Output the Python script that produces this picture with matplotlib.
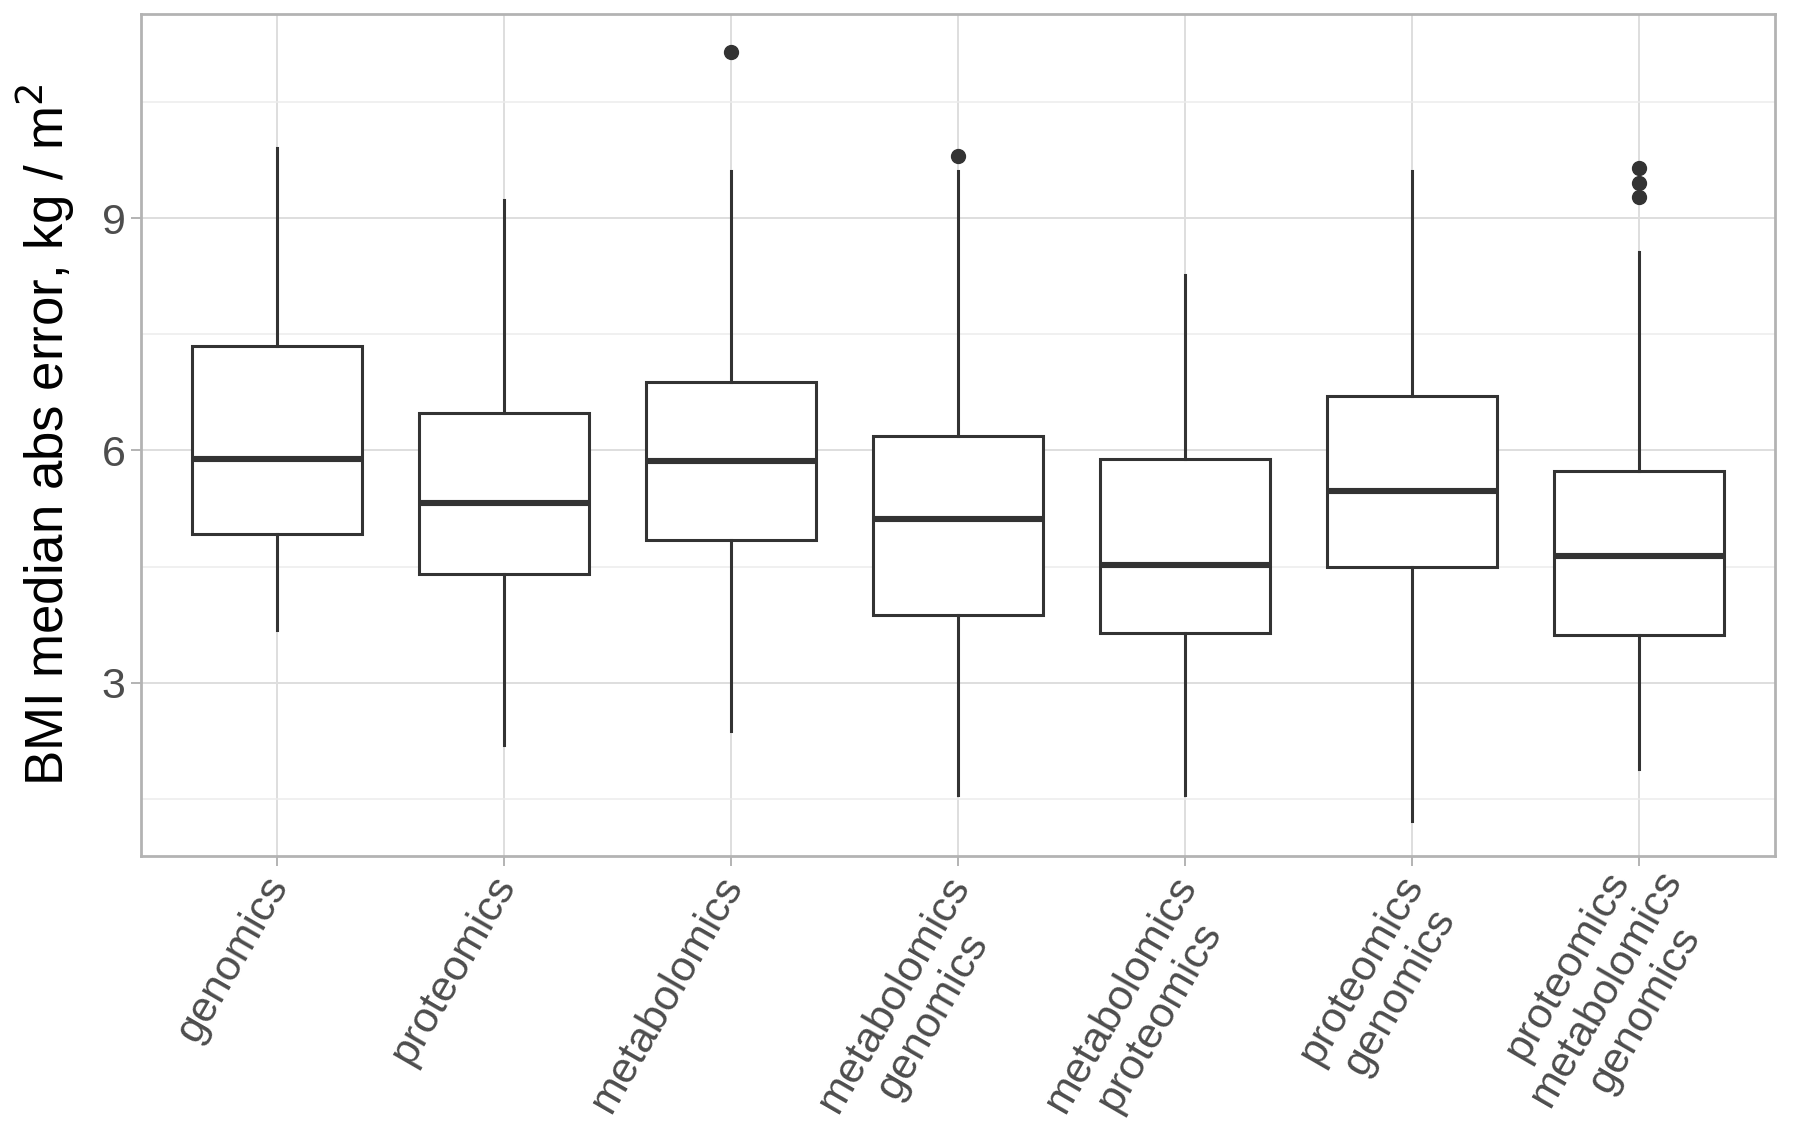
import numpy as np
import matplotlib
matplotlib.use("Agg")
import matplotlib.pyplot as plt
import matplotlib.transforms as mtransforms
from matplotlib.ticker import MultipleLocator

plt.rcParams['font.family'] = ['Liberation Sans', 'DejaVu Sans']

# groups of omics used for the BMI model
groups = ["genomics", "proteomics", "metabolomics",
          "metabolomics\ngenomics", "metabolomics\nproteomics",
          "proteomics\ngenomics", "proteomics\nmetabolomics\ngenomics"]

# box statistics (kg / m^2)
whislo = [3.68, 2.19, 2.37, 1.55, 1.55, 1.21, 1.89]
q1     = [4.92, 4.40, 4.84, 3.88, 3.64, 4.49, 3.61]
med    = [5.89, 5.32, 5.87, 5.11, 4.52, 5.48, 4.64]
q3     = [7.35, 6.48, 6.89, 6.19, 5.89, 6.71, 5.74]
whishi = [9.91, 9.24, 9.61, 9.61, 8.27, 9.61, 8.57]
fliers = [[], [], [11.15], [9.81], [], [], [9.65, 9.46, 9.27]]

stats = []
for i in range(len(groups)):
    stats.append(dict(whislo=whislo[i], q1=q1[i], med=med[i], q3=q3[i],
                      whishi=whishi[i], fliers=fliers[i], label=groups[i]))

fig = plt.figure(figsize=(18, 11.39), dpi=100)
ax = fig.add_axes([0.0783, 0.2485, 0.9078, 0.7392])

dark = "#333333"
ax.bxp(stats, positions=np.arange(1, 8), widths=0.75, showcaps=False,
       patch_artist=True,
       boxprops=dict(facecolor="white", edgecolor=dark, linewidth=2.2),
       whiskerprops=dict(color=dark, linewidth=2.2),
       medianprops=dict(color=dark, linewidth=4.4, solid_capstyle="butt"),
       flierprops=dict(marker="o", markerfacecolor=dark, markeredgecolor=dark,
                       markersize=10),
       zorder=3)

ax.set_xlim(0.4, 7.6)
ax.set_ylim(0.76, 11.64)
ax.yaxis.set_major_locator(MultipleLocator(3))
ax.yaxis.set_minor_locator(MultipleLocator(1.5))
ax.set_yticks([3, 6, 9])
ax.set_yticklabels(["3", "6", "9"])

ax.grid(True, which="major", color="#dedede", linewidth=1.4, zorder=0)
ax.grid(True, which="minor", axis="y", color="#ececec", linewidth=1.1, zorder=0)
ax.set_axisbelow(True)

for s in ax.spines.values():
    s.set_color("#b3b3b3")
    s.set_linewidth(2)

ax.tick_params(axis="both", which="major", length=7, width=1.4, color="#b3b3b3",
               labelsize=31, labelcolor="#4d4d4d", pad=4)
ax.tick_params(axis="x", which="major", pad=2.5)
ax.tick_params(axis="y", which="minor", length=0)

ax.set_xticks(np.arange(1, 8))
ax.set_xticklabels(groups, rotation=60, ha="right", va="top",
                   rotation_mode="anchor", multialignment="center",
                   linespacing=1.15)
# nudge the rotated labels a little to the left, like ggplot does;
# the three-line label sits a bit higher
for lab in ax.get_xticklabels():
    nlines = lab.get_text().count("\n") + 1
    dx, dy = -0.15, 0.0
    if nlines > 2:
        dx, dy = -0.22, 0.28
    shift = mtransforms.ScaledTranslation(dx, dy, fig.dpi_scale_trans)
    lab.set_transform(lab.get_transform() + shift)

ax.set_ylabel("BMI median abs error, kg / m$^2$", fontsize=38, color="black")
ax.yaxis.set_label_coords(-0.039, 0.5)

fig.savefig("out.png", dpi=100)
